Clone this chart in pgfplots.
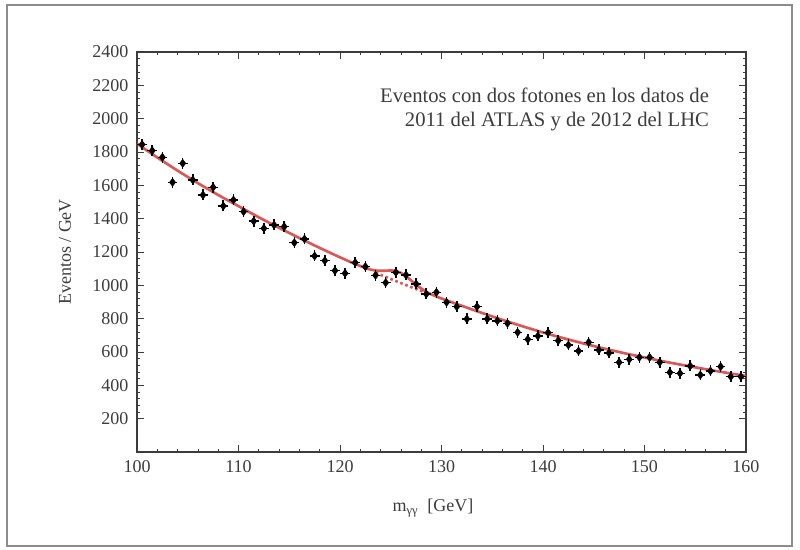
\documentclass[border=0pt]{standalone}
\usepackage{pgfplots}
\pgfplotsset{compat=1.18}
\usepackage{fontspec}
\setmainfont{Liberation Serif}
\definecolor{txt}{RGB}{60,60,60}
\definecolor{fitred}{RGB}{214,70,70}
\definecolor{framegray}{RGB}{140,140,140}
\begin{document}
\begin{tikzpicture}
\begin{axis}[
  scale only axis, width=456.75pt, height=300pt,
  xmin=100, xmax=160, ymin=0, ymax=2400,
  xtick={100,110,...,160}, ytick={200,400,...,2400},
  minor x tick num=4, minor y tick num=4,
  major tick length=5pt, minor tick length=2.5pt,
  tick style={txt, line width=0.6pt},
  axis line style={txt, line width=0.8pt},
  /pgf/number format/assume math mode=true,
  /pgf/number format/1000 sep={},
  tick label style={txt, font=\fontsize{13.5}{15}\selectfont},
  xticklabel style={yshift=-3pt},
  yticklabel style={xshift=-3pt},
  xlabel={m\textsubscript{γγ}\ \ [GeV]},
  ylabel={Eventos / GeV},
  label style={txt, font=\fontsize{13.5}{15}\selectfont},
  xlabel style={at={(rel axis cs:0.486,-0.14)}, anchor=center},
  ylabel style={at={(rel axis cs:-0.118,0.5)}, anchor=center},
  clip=false,
]
% fit: signal + background
\addplot[fitred, line width=2pt, opacity=0.9, smooth, tension=0.4] coordinates {
(100,1850)(102,1767)(104,1688)(106,1613)(108,1542)(110,1475)
(112,1408)(114,1345)(116,1284)(118,1224.5)(120,1168)(121,1141)(122,1115.5)
(122.5,1104.5)(123,1094.5)(123.5,1089)(124,1087)(124.5,1087.5)(125,1089)
(125.5,1086)(126,1074.5)(126.5,1054.5)(127,1029.5)(127.5,1003.75)(128,981)
(128.5,961.5)(129,946)(129.5,933)(130,921)(132,877)(134,834)(136,793)
(138,754)(140,717)(142,683)(144,651)(146,621)(148,593)(150,567)
(152,542)(154,519)(156,497)(158,476)(160,456)};
% background only
\addplot[fitred, line width=2pt, opacity=0.9, dotted] coordinates {
(123.5,1075.75)(124,1063)(125,1038)(126,1013.5)(127,989.5)(128,966)(128.5,954.5)};
% data
\addplot[only marks, mark=diamond*, mark size=3pt, black,
  error bars/.cd, x dir=both, x fixed=0.48, y dir=both, y fixed=33,
  error bar style={black, line width=1.2pt}, error mark=none] coordinates {
(100.5,1845)(101.5,1808)(102.5,1768)(103.5,1618)(104.5,1732)(105.5,1632)
(106.5,1542)(107.5,1588)(108.5,1476)(109.5,1512)(110.5,1442)(111.5,1385)
(112.5,1342)(113.5,1362)(114.5,1352)(115.5,1256)(116.5,1278)(117.5,1176)
(118.5,1148)(119.5,1088)(120.5,1072)(121.5,1136)(122.5,1112)(123.5,1060)
(124.5,1016)(125.5,1078)(126.5,1062)(127.5,1008)(128.5,948)(129.5,958)
(130.5,898)(131.5,872)(132.5,798)(133.5,872)(134.5,798)(135.5,787)
(136.5,772)(137.5,718)(138.5,676)(139.5,696)(140.5,716)(141.5,668)
(142.5,642)(143.5,606)(144.5,658)(145.5,612)(146.5,594)(147.5,538)
(148.5,556)(149.5,568)(150.5,568)(151.5,538)(152.5,478)(153.5,472)
(154.5,516)(155.5,462)(156.5,486)(157.5,512)(158.5,452)(159.5,452)};
\node[txt, anchor=base east, font=\fontsize{15.5}{18}\selectfont] at (rel axis cs:0.947,0.8725) {Eventos con dos fotones en los datos de};
\node[txt, anchor=base east, font=\fontsize{15.5}{18}\selectfont] at (rel axis cs:0.947,0.8125) {2011 del ATLAS y de 2012 del LHC};
\coordinate (bbl) at (rel axis cs:-0.225,-0.245);
\coordinate (btr) at (rel axis cs:1.0887,1.13);
\draw[framegray, line width=1.1pt] (rel axis cs:-0.2135,-0.235) rectangle (rel axis cs:1.0755,1.1175);
\end{axis}
\path (bbl) rectangle (btr);
\end{tikzpicture}
\end{document}
